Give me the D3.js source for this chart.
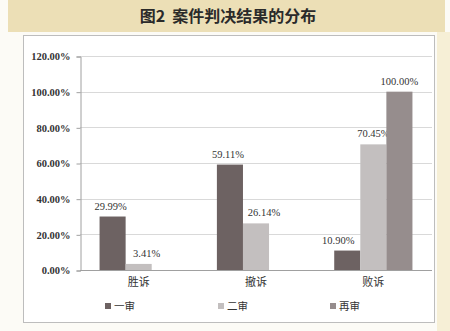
<!DOCTYPE html>
<html>
<head>
<meta charset="utf-8">
<script src="https://cdn.jsdelivr.net/npm/d3@7"></script>
<style>
  body { margin: 0; background: #fcfbf6; }
  svg { display: block; }
</style>
</head>
<body>
<div id="chart"></div>
<script>
"use strict";

// categories and series
var categories = ["胜诉", "撤诉", "败诉"];
var seriesNames = ["一审", "二审", "再审"];
var firstTrial = [29.99, 59.11, 10.90];
var secondTrial = [3.41, 26.14, 70.45];
var retrial = [0, 0, 100.00];
var yTicks = [0, 20, 40, 60, 80, 100, 120];

var colors = ["#6d6262", "#c3bfbf", "#968d8d"];
var series = [firstTrial, secondTrial, retrial];

// the original nudges a few labels sideways so they don't collide
// [series][category] in px
var labelNudge = [[-2, -2, -9], [8, 8, 0], [0, 0, 0]];

var W = 450, H = 331;
var svg = d3.select("#chart").append("svg")
	.attr("width", W).attr("height", H);

// title band
svg.append("rect").attr("x", 8).attr("y", 0).attr("width", 437).attr("height", 32)
	.attr("fill", "#ecdfb6");
svg.append("text").attr("x", 228).attr("y", 22)
	.attr("text-anchor", "middle")
	.style("white-space", "pre")
	.style("font-family", "'Noto Sans CJK SC', serif")
	.style("font-weight", "bold").style("font-size", "16px")
	.attr("fill", "#2a2a2a")
	.text("图2  案件判决结果的分布");

// right edge strip (yellowish page)
svg.append("rect").attr("x", 437).attr("y", 32).attr("width", 13).attr("height", H - 32)
	.attr("fill", "#f6efd6");

// chart box
svg.append("rect").attr("x", 23.5).attr("y", 35.5).attr("width", 411).attr("height", 287)
	.attr("fill", "#ffffff").attr("stroke", "#bdbdbd");

var margin = { left: 80, right: 432, top: 56, bottom: 270 };

var y = d3.scaleLinear().domain([0, 120]).range([margin.bottom, margin.top]);
var x0 = d3.scaleBand().domain(categories).range([margin.left, margin.right]);
// excel-like gap between clusters
var x1 = d3.scaleBand().domain(seriesNames).range([0, x0.bandwidth()]).paddingOuter(0.75);

// gridlines
svg.append("g").selectAll("line").data(yTicks.slice(1)).enter().append("line")
	.attr("x1", margin.left).attr("x2", margin.right)
	.attr("y1", function (d) { return Math.round(y(d)) + 0.5; })
	.attr("y2", function (d) { return Math.round(y(d)) + 0.5; })
	.attr("stroke", "#d9d9d9");

// y axis
var yAxis = d3.axisLeft(y).tickValues(yTicks).tickSize(4)
	.tickFormat(function (d) { return d.toFixed(2) + "%"; });
var gy = svg.append("g").attr("transform", "translate(" + (margin.left + 0.5) + ",0.5)").call(yAxis);
gy.select(".domain").attr("stroke", "#a0a0a0");
gy.selectAll(".tick line").attr("stroke", "#a0a0a0");
gy.selectAll("text")
	.attr("x", -10)
	.style("font-family", "'Liberation Serif', serif")
	.style("font-weight", "bold").style("font-size", "10.5px")
	.attr("fill", "#333");

// x axis baseline
svg.append("line").attr("x1", margin.left).attr("x2", margin.right)
	.attr("y1", margin.bottom + 0.5).attr("y2", margin.bottom + 0.5)
	.attr("stroke", "#a0a0a0");

// bars
var groups = svg.append("g").selectAll("g").data(categories).enter().append("g")
	.attr("transform", function (d) { return "translate(" + x0(d) + ",0)"; });

groups.each(function (cat, ci) {
	var g = d3.select(this);
	seriesNames.forEach(function (s, si) {
		var v = series[si][ci];
		if (v <= 0) return; // no 再审 bar for the first two
		g.append("rect")
			.attr("x", x1(s)).attr("width", x1.bandwidth())
			.attr("y", y(v)).attr("height", y(0) - y(v))
			.attr("fill", colors[si]);
		g.append("text")
			.attr("x", x1(s) + x1.bandwidth() / 2 + labelNudge[si][ci])
			.attr("y", y(v) - 7)
			.attr("text-anchor", "middle")
			.style("font-family", "'Liberation Serif', serif")
			.style("font-size", "10.5px")
			.attr("fill", "#333")
			.text(v.toFixed(2) + "%");
	});
});

// category labels
svg.append("g").selectAll("text").data(categories).enter().append("text")
	.attr("x", function (d) { return x0(d) + x0.bandwidth() / 2; })
	.attr("y", 286)
	.attr("text-anchor", "middle")
	.style("font-family", "'Noto Sans CJK SC', serif")
	.style("font-size", "11px")
	.attr("fill", "#333")
	.text(function (d) { return d; });

// legend
var legendX = [105, 218, 330];
var legend = svg.append("g").selectAll("g").data(seriesNames).enter().append("g")
	.attr("transform", function (d, i) { return "translate(" + legendX[i] + ",307)"; });
legend.append("rect").attr("x", 0).attr("y", -4).attr("width", 6).attr("height", 6)
	.attr("fill", function (d, i) { return colors[i]; });
legend.append("text").attr("x", 9).attr("y", 3)
	.style("font-family", "'Noto Sans CJK SC', serif")
	.style("font-size", "10.5px")
	.attr("fill", "#333")
	.text(function (d) { return d; });
</script>
</body>
</html>
